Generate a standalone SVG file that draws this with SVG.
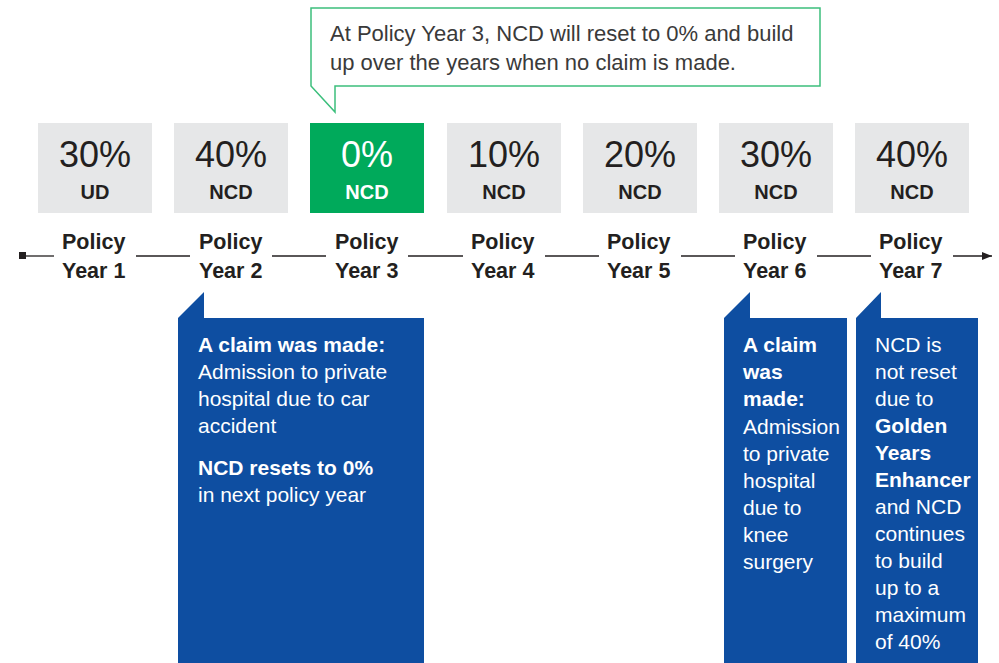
<svg xmlns="http://www.w3.org/2000/svg" width="999" height="663" viewBox="0 0 999 663">
<defs>
<style>
text{font-family:"Liberation Sans",Arial,sans-serif;}
.box{fill:#e6e7e8;}
.boxg{fill:#00aa5b;}
.pct{font-size:36px;fill:#231f20;text-anchor:middle;}
.ncd{font-size:20px;font-weight:bold;fill:#231f20;text-anchor:middle;}
.w{fill:#ffffff;}
.yr{font-size:21.5px;font-weight:bold;fill:#231f20;}
.ln{stroke:#231f20;stroke-width:1.3;fill:none;}
.blue{fill:#0e4ea1;}
.bt{font-size:21px;fill:#ffffff;}
.b{font-weight:bold;}
.call{font-size:22px;fill:#3a3a3a;}
</style>
<marker id="arr" markerWidth="10" markerHeight="8" refX="10" refY="4" orient="auto" markerUnits="userSpaceOnUse">
<path d="M0,0 L10,4 L0,8 Z" fill="#231f20"/>
</marker>
</defs>

<g id="callout">
<path d="M311,8 H820 V86 H335 V112 L311,86 Z" fill="#ffffff" stroke="#3cbf7c" stroke-width="1.5"/>
<text class="call" x="330" y="41">At Policy Year 3, NCD will reset to 0% and build</text>
<text class="call" x="330" y="70">up over the years when no claim is made.</text>
</g>

<g id="connectors">
<rect x="19" y="252" width="7" height="7" fill="#231f20"/>
<line class="ln" x1="26" y1="256" x2="54" y2="256"/>
<line class="ln" x1="136" y1="256" x2="190" y2="256"/>
<line class="ln" x1="272" y1="256" x2="326" y2="256"/>
<line class="ln" x1="408" y1="256" x2="463" y2="256"/>
<line class="ln" x1="545" y1="256" x2="599" y2="256"/>
<line class="ln" x1="681" y1="256" x2="735" y2="256"/>
<line class="ln" x1="817" y1="256" x2="871" y2="256"/>
<line class="ln" x1="953" y1="256" x2="992" y2="256" marker-end="url(#arr)"/>
</g>

<g id="year1">
<rect class="box" x="38" y="123" width="114" height="90"/>
<text class="pct" x="95" y="167">30%</text>
<text class="ncd" x="95" y="199">UD</text>
<text class="yr" x="62" y="249">Policy</text>
<text class="yr" x="62" y="278">Year 1</text>
</g>
<g id="year2">
<rect class="box" x="174" y="123" width="114" height="90"/>
<text class="pct" x="231" y="167">40%</text>
<text class="ncd" x="231" y="199">NCD</text>
<text class="yr" x="199" y="249">Policy</text>
<text class="yr" x="199" y="278">Year 2</text>
</g>
<g id="year3">
<rect class="boxg" x="310" y="123" width="114" height="90"/>
<text class="pct w" x="367" y="167">0%</text>
<text class="ncd w" x="367" y="199">NCD</text>
<text class="yr" x="335" y="249">Policy</text>
<text class="yr" x="335" y="278">Year 3</text>
</g>
<g id="year4">
<rect class="box" x="447" y="123" width="114" height="90"/>
<text class="pct" x="504" y="167">10%</text>
<text class="ncd" x="504" y="199">NCD</text>
<text class="yr" x="471" y="249">Policy</text>
<text class="yr" x="471" y="278">Year 4</text>
</g>
<g id="year5">
<rect class="box" x="583" y="123" width="114" height="90"/>
<text class="pct" x="640" y="167">20%</text>
<text class="ncd" x="640" y="199">NCD</text>
<text class="yr" x="607" y="249">Policy</text>
<text class="yr" x="607" y="278">Year 5</text>
</g>
<g id="year6">
<rect class="box" x="719" y="123" width="114" height="90"/>
<text class="pct" x="776" y="167">30%</text>
<text class="ncd" x="776" y="199">NCD</text>
<text class="yr" x="743" y="249">Policy</text>
<text class="yr" x="743" y="278">Year 6</text>
</g>
<g id="year7">
<rect class="box" x="855" y="123" width="114" height="90"/>
<text class="pct" x="912" y="167">40%</text>
<text class="ncd" x="912" y="199">NCD</text>
<text class="yr" x="879" y="249">Policy</text>
<text class="yr" x="879" y="278">Year 7</text>
</g>

<g id="note-year2">
<path class="blue" d="M178,663 V318 L204,292 V318 H424 V663 Z"/>
<text class="bt b" x="198" y="352">A claim was made:</text>
<text class="bt" x="198" y="379">Admission to private</text>
<text class="bt" x="198" y="406">hospital due to car</text>
<text class="bt" x="198" y="433">accident</text>
<text class="bt b" x="198" y="475">NCD resets to 0%</text>
<text class="bt" x="198" y="502">in next policy year</text>
</g>

<g id="note-year6">
<path class="blue" d="M724,663 V318 L750,292 V318 H847 V663 Z"/>
<text class="bt b" x="743" y="352">A claim</text>
<text class="bt b" x="743" y="379">was</text>
<text class="bt b" x="743" y="406">made:</text>
<text class="bt" x="743" y="434">Admission</text>
<text class="bt" x="743" y="461">to private</text>
<text class="bt" x="743" y="488">hospital</text>
<text class="bt" x="743" y="515">due to</text>
<text class="bt" x="743" y="542">knee</text>
<text class="bt" x="743" y="569">surgery</text>
</g>

<g id="note-year7">
<path class="blue" d="M856,663 V318 L881,292 V318 H978 V663 Z"/>
<text class="bt" x="875" y="352">NCD is</text>
<text class="bt" x="875" y="379">not reset</text>
<text class="bt" x="875" y="406">due to</text>
<text class="bt b" x="875" y="433">Golden</text>
<text class="bt b" x="875" y="460">Years</text>
<text class="bt b" x="875" y="487">Enhancer</text>
<text class="bt" x="875" y="514">and NCD</text>
<text class="bt" x="875" y="541">continues</text>
<text class="bt" x="875" y="568">to build</text>
<text class="bt" x="875" y="595">up to a</text>
<text class="bt" x="875" y="622">maximum</text>
<text class="bt" x="875" y="649">of 40%</text>
</g>
</svg>
